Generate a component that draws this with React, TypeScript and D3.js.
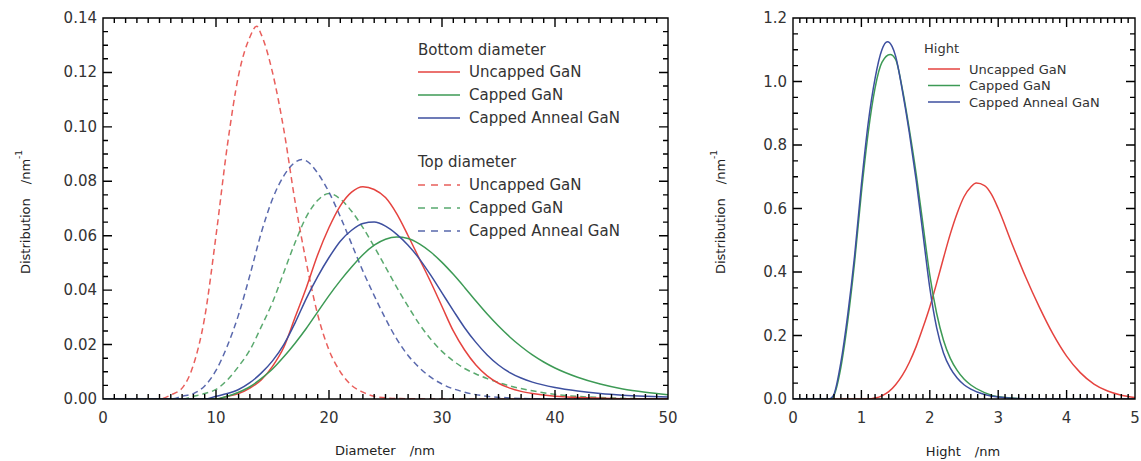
import React from 'react';
import * as d3 from 'd3';

// diameter distributions (nm, 1/nm)
const bottomUncapped: [number, number][] = [
  [0, 0], [10, 0], [11, 0.001], [12, 0.002], [13, 0.004], [14, 0.007], [15, 0.012], [16, 0.019],
  [17, 0.03], [18, 0.041], [19, 0.053], [20, 0.063], [21, 0.071], [22, 0.076], [23, 0.078],
  [24, 0.077], [25, 0.074], [26, 0.068], [27, 0.06], [28, 0.0515], [29, 0.043], [30, 0.034],
  [31, 0.025], [32, 0.018], [33, 0.0125], [34, 0.0085], [35, 0.0058], [36, 0.004], [37, 0.0028],
  [38, 0.002], [40, 0.001], [45, 0.0002], [50, 0],
];
const bottomCapped: [number, number][] = [
  [0, 0], [10, 0], [11, 0.001], [12, 0.0025], [13, 0.0045], [14, 0.0075], [15, 0.011], [16, 0.0155],
  [17, 0.0205], [18, 0.026], [19, 0.032], [20, 0.038], [21, 0.0435], [22, 0.0485], [23, 0.053],
  [24, 0.0565], [25, 0.0587], [26, 0.0595], [27, 0.059], [28, 0.057], [29, 0.054], [30, 0.0502],
  [31, 0.0458], [32, 0.041], [33, 0.036], [34, 0.0312], [35, 0.0268], [36, 0.0228], [37, 0.0193],
  [38, 0.0162], [39, 0.0136], [40, 0.0114], [42, 0.008], [44, 0.0055], [46, 0.0037], [48, 0.0025],
  [50, 0.0016],
];
const bottomAnneal: [number, number][] = [
  [0, 0], [9, 0], [10, 0.001], [11, 0.002], [12, 0.0035], [13, 0.006], [14, 0.0095], [15, 0.014],
  [16, 0.02], [17, 0.028], [18, 0.037], [19, 0.045], [20, 0.052], [21, 0.058], [22, 0.062],
  [23, 0.0645], [24, 0.065], [25, 0.0635], [26, 0.0605], [27, 0.0565], [28, 0.0515], [29, 0.0455],
  [30, 0.039], [31, 0.0325], [32, 0.0262], [33, 0.0208], [34, 0.0162], [35, 0.0125], [36, 0.0097],
  [37, 0.0077], [38, 0.0062], [40, 0.0042], [42, 0.0029], [44, 0.002], [46, 0.0014], [48, 0.001],
  [50, 0.0007],
];
const topUncapped: [number, number][] = [
  [0, 0], [5, 0], [6, 0.0015], [7, 0.004], [8, 0.0125], [9, 0.03], [10, 0.06], [11, 0.093],
  [12, 0.119], [13, 0.133], [13.6, 0.137], [14, 0.134], [15, 0.12], [16, 0.099], [17, 0.0725],
  [18, 0.05], [19, 0.031], [20, 0.018], [21, 0.01], [22, 0.005], [23, 0.0025], [24, 0.001],
  [26, 0.0002], [30, 0], [50, 0],
];
const topCapped: [number, number][] = [
  [0, 0], [7, 0], [8, 0.001], [9, 0.002], [10, 0.0035], [11, 0.007], [12, 0.012], [13, 0.018],
  [14, 0.0265], [15, 0.0355], [16, 0.0465], [17, 0.0575], [18, 0.067], [19, 0.073], [20, 0.0755],
  [21, 0.0735], [22, 0.069], [23, 0.063], [24, 0.056], [25, 0.0485], [26, 0.041], [27, 0.034],
  [28, 0.0275], [29, 0.022], [30, 0.0175], [31, 0.014], [32, 0.0112], [33, 0.0092], [34, 0.0075],
  [36, 0.0048], [38, 0.003], [40, 0.0017], [45, 0.0004], [50, 0],
];
const topAnneal: [number, number][] = [
  [0, 0], [6, 0], [7, 0.001], [8, 0.002], [9, 0.0048], [10, 0.0105], [11, 0.0195], [12, 0.031],
  [13, 0.0455], [14, 0.061], [15, 0.0735], [16, 0.082], [17, 0.087], [17.6, 0.088], [18, 0.0875],
  [19, 0.083], [20, 0.076], [21, 0.067], [22, 0.057], [23, 0.047], [24, 0.038], [25, 0.0295],
  [26, 0.022], [27, 0.016], [28, 0.0115], [29, 0.008], [30, 0.0055], [32, 0.0025], [34, 0.001],
  [36, 0.0004], [38, 0.0001], [50, 0],
];

// height distributions (nm, 1/nm)
const hightUncapped: [number, number][] = [
  [0, 0], [1.1, 0], [1.2, 0.003], [1.3, 0.01], [1.4, 0.023], [1.5, 0.045], [1.6, 0.075], [1.7, 0.115],
  [1.8, 0.165], [1.9, 0.225], [2.0, 0.29], [2.1, 0.365], [2.2, 0.444], [2.3, 0.52], [2.4, 0.585],
  [2.5, 0.637], [2.6, 0.668], [2.68, 0.68], [2.8, 0.672], [2.9, 0.645], [3.0, 0.6], [3.2, 0.49],
  [3.4, 0.385], [3.6, 0.29], [3.8, 0.205], [4.0, 0.135], [4.2, 0.083], [4.4, 0.047], [4.6, 0.025],
  [4.8, 0.012], [5.0, 0.005],
];
const hightCapped: [number, number][] = [
  [0, 0], [0.5, 0], [0.57, 0.002], [0.6, 0.012], [0.7, 0.1], [0.8, 0.245], [0.9, 0.43], [1.0, 0.65],
  [1.1, 0.84], [1.2, 0.98], [1.3, 1.06], [1.42, 1.085], [1.5, 1.07], [1.6, 0.975], [1.7, 0.85],
  [1.8, 0.71], [1.9, 0.55], [2.0, 0.39], [2.1, 0.27], [2.2, 0.185], [2.3, 0.128], [2.4, 0.09],
  [2.5, 0.063], [2.6, 0.044], [2.8, 0.02], [3.0, 0.007], [3.5, 0], [5, 0],
];
const hightAnneal: [number, number][] = [
  [0, 0], [0.5, 0], [0.55, 0.002], [0.6, 0.015], [0.7, 0.115], [0.8, 0.265], [0.9, 0.45], [1.0, 0.675],
  [1.1, 0.87], [1.2, 1.01], [1.3, 1.1], [1.38, 1.125], [1.45, 1.11], [1.5, 1.08], [1.6, 0.97],
  [1.7, 0.84], [1.8, 0.69], [1.9, 0.52], [2.0, 0.35], [2.1, 0.225], [2.2, 0.145], [2.3, 0.097],
  [2.4, 0.066], [2.5, 0.045], [2.6, 0.031], [2.8, 0.014], [3.0, 0.006], [3.5, 0], [5, 0],
];

const legendNames = ['Uncapped GaN', 'Capped GaN', 'Capped Anneal GaN'];
const leftXTicks = [0, 10, 20, 30, 40, 50];
const leftYTicks = [0, 0.02, 0.04, 0.06, 0.08, 0.1, 0.12, 0.14];
const rightXTicks = [0, 1, 2, 3, 4, 5];
const rightYTicks = [0, 0.2, 0.4, 0.6, 0.8, 1.0, 1.2];

const RED = '#e5433f';
const GREEN = '#3d9a55';
const BLUE = '#3d4f9f';
const FONT = 'DejaVu Sans, Verdana, sans-serif';
const TEXT = '#333';
const AXIS = '#000';

// frame plus inward minor/major ticks, all in one path
function framePath(
  sx: d3.ScaleLinear<number, number>, sy: d3.ScaleLinear<number, number>,
  xVals: number[], yVals: number[], xMajors: number[], yMajors: number[],
) {
  const [left, right] = sx.range();
  const [bottom, top] = sy.range();
  const p = d3.path();
  p.rect(left, top, right - left, bottom - top);
  const isMajor = (v: number, list: number[]) => list.some(m => Math.abs(m - v) < 1e-6);
  xVals.forEach(v => {
    const len = isMajor(v, xMajors) ? 9 : 5;
    const px = sx(v);
    p.moveTo(px, bottom); p.lineTo(px, bottom - len);
    p.moveTo(px, top); p.lineTo(px, top + len);
  });
  yVals.forEach(v => {
    const len = isMajor(v, yMajors) ? 9 : 5;
    const py = sy(v);
    p.moveTo(left, py); p.lineTo(left + len, py);
    p.moveTo(right, py); p.lineTo(right - len, py);
  });
  return p.toString();
}

export default function App() {
  // left panel: diameter
  const lx = d3.scaleLinear().domain([0, 50]).range([103, 668]);
  const ly = d3.scaleLinear().domain([0, 0.14]).range([399, 18]);
  // right panel: hight
  const rx = d3.scaleLinear().domain([0, 5]).range([793, 1135]);
  const ry = d3.scaleLinear().domain([0, 1.2]).range([399, 18]);

  const leftLine = d3.line<[number, number]>()
    .x(d => lx(d[0])).y(d => ly(d[1])).curve(d3.curveMonotoneX);
  const rightLine = d3.line<[number, number]>()
    .x(d => rx(d[0])).y(d => ry(d[1])).curve(d3.curveMonotoneX);

  const leftFrame = framePath(lx, ly, d3.range(51), d3.range(29).map(i => i * 0.005), leftXTicks, leftYTicks);
  const rightFrame = framePath(rx, ry, d3.range(51).map(i => i / 10), d3.range(25).map(i => i * 0.05),
    rightXTicks, rightYTicks);

  const colors = [RED, GREEN, BLUE];
  const solids = [bottomUncapped, bottomCapped, bottomAnneal];
  const dashes = [topUncapped, topCapped, topAnneal];
  const hights = [hightUncapped, hightCapped, hightAnneal];

  return (
    <svg width={1141} height={461} style={{ position: 'absolute', left: 0, top: 0, background: '#fff' }}>
      <defs>
        <clipPath id="clipL"><rect x={103} y={18} width={565} height={381} /></clipPath>
        <clipPath id="clipR"><rect x={793} y={18} width={342} height={381} /></clipPath>
      </defs>

      {/* ---------- left panel ---------- */}
      <g clipPath="url(#clipL)" fill="none" strokeWidth={1.5}>
        {dashes.map((s, i) => (
          <path key={'d' + i} d={leftLine(s) || ''} stroke={colors[i]} strokeDasharray="6,4" opacity={0.85} />
        ))}
        {solids.map((s, i) => (
          <path key={'s' + i} d={leftLine(s) || ''} stroke={colors[i]} />
        ))}
      </g>
      <path d={leftFrame} fill="none" stroke={AXIS} strokeWidth={1.4} />
      <g fontSize={15} fill={TEXT} fontFamily={FONT}>
        {leftYTicks.map(t => (
          <text key={t} x={97} y={ly(t)} textAnchor="end" dominantBaseline="central">{t.toFixed(2)}</text>
        ))}
        {leftXTicks.map(t => (
          <text key={t} x={lx(t)} y={418} textAnchor="middle" dominantBaseline="central">{t}</text>
        ))}
      </g>
      <text x={385} y={450} fontSize={13} fill="#222" fontFamily={FONT} textAnchor="middle" dominantBaseline="central">
        Diameter<tspan dx={14}>/nm</tspan>
      </text>
      <text transform="translate(25,212) rotate(-90)" fontSize={13} fill="#222" fontFamily={FONT}
        textAnchor="middle" dominantBaseline="central">
        Distribution<tspan dx={14}>/nm</tspan><tspan dy={-6} fontSize={9}>-1</tspan>
      </text>

      {/* left legend */}
      <g fontSize={15} fill={TEXT} fontFamily={FONT}>
        <text x={418} y={50} dominantBaseline="central">Bottom diameter</text>
        {legendNames.map((n, i) => (
          <g key={'lb' + i}>
            <line x1={418} x2={460} y1={72 + i * 23} y2={72 + i * 23} stroke={colors[i]} strokeWidth={1.5} />
            <text x={469} y={72 + i * 23} dominantBaseline="central">{n}</text>
          </g>
        ))}
        <text x={418} y={162} dominantBaseline="central">Top diameter</text>
        {legendNames.map((n, i) => (
          <g key={'lt' + i}>
            <line x1={418} x2={460} y1={185 + i * 23} y2={185 + i * 23} stroke={colors[i]} strokeWidth={1.5}
              strokeDasharray="7,6" opacity={0.85} />
            <text x={469} y={185 + i * 23} dominantBaseline="central">{n}</text>
          </g>
        ))}
      </g>

      {/* ---------- right panel ---------- */}
      <g clipPath="url(#clipR)" fill="none" strokeWidth={1.5}>
        {hights.map((s, i) => (
          <path key={'h' + i} d={rightLine(s) || ''} stroke={colors[i]} />
        ))}
      </g>
      <path d={rightFrame} fill="none" stroke={AXIS} strokeWidth={1.4} />
      <g fontSize={15} fill={TEXT} fontFamily={FONT}>
        {rightYTicks.map(t => (
          <text key={t} x={787} y={ry(t)} textAnchor="end" dominantBaseline="central">{t.toFixed(1)}</text>
        ))}
        {rightXTicks.map(t => (
          <text key={t} x={rx(t)} y={418} textAnchor="middle" dominantBaseline="central">{t}</text>
        ))}
      </g>
      <text x={963} y={451} fontSize={13} fill="#222" fontFamily={FONT} textAnchor="middle" dominantBaseline="central">
        Hight<tspan dx={14}>/nm</tspan>
      </text>
      <text transform="translate(720,212) rotate(-90)" fontSize={13} fill="#222" fontFamily={FONT}
        textAnchor="middle" dominantBaseline="central">
        Distribution<tspan dx={14}>/nm</tspan><tspan dy={-6} fontSize={9}>-1</tspan>
      </text>

      {/* right legend */}
      <g fontSize={13} fill={TEXT} fontFamily={FONT}>
        <text x={924} y={48} dominantBaseline="central">Hight</text>
        {legendNames.map((n, i) => (
          <g key={'lh' + i}>
            <line x1={928} x2={960} y1={69 + i * 16.5} y2={69 + i * 16.5} stroke={colors[i]} strokeWidth={1.5} />
            <text x={969} y={69 + i * 16.5} dominantBaseline="central">{n}</text>
          </g>
        ))}
      </g>
    </svg>
  );
}
